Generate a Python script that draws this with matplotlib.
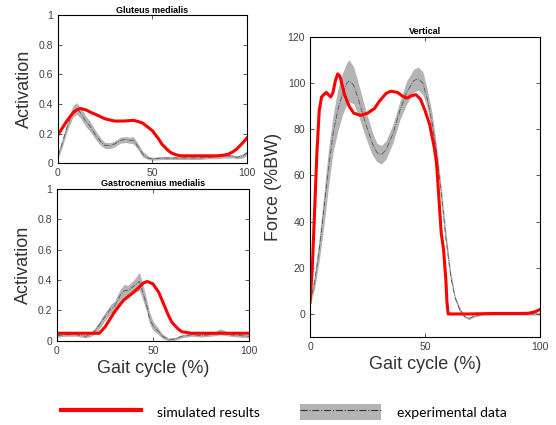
import numpy as np
import matplotlib
matplotlib.use('Agg')
import matplotlib.pyplot as plt
from matplotlib.lines import Line2D
from matplotlib.patches import Patch
from matplotlib.legend_handler import HandlerTuple

plt.rcParams['font.family'] = ['Liberation Sans', 'DejaVu Sans']

# Gluteus medialis
glut_x = [0, 2, 5, 8, 10, 12, 15, 17, 20, 23, 25, 28, 30, 33, 36, 38, 40, 42, 45, 48, 50,
          55, 60, 65, 70, 75, 80, 85, 88, 90, 93, 95, 98, 100]
glut_exp = [0.05, 0.12, 0.25, 0.35, 0.37, 0.34, 0.28, 0.25, 0.19, 0.14, 0.12, 0.12, 0.13, 0.155, 0.16,
            0.155, 0.155, 0.12, 0.06, 0.035, 0.03, 0.035, 0.035, 0.035, 0.035, 0.035, 0.04, 0.045,
            0.05, 0.05, 0.045, 0.04, 0.05, 0.07]
glut_sd = [0.02, 0.025, 0.03, 0.04, 0.04, 0.035, 0.035, 0.035, 0.03, 0.025, 0.02, 0.02, 0.02, 0.02, 0.02,
           0.02, 0.025, 0.02, 0.02, 0.01, 0.01, 0.01, 0.01, 0.01, 0.01, 0.01, 0.01, 0.015,
           0.015, 0.015, 0.01, 0.01, 0.015, 0.015]
glut_sim_x = [0, 3, 5, 8, 10, 12, 15, 18, 20, 25, 30, 35, 40, 43, 45, 48, 50, 53, 55, 58, 60, 63,
              65, 70, 75, 80, 85, 88, 90, 93, 95, 98, 100]
glut_sim = [0.19, 0.25, 0.29, 0.34, 0.36, 0.37, 0.36, 0.34, 0.33, 0.30, 0.285, 0.285, 0.29, 0.28,
            0.27, 0.24, 0.22, 0.17, 0.13, 0.09, 0.07, 0.055, 0.05, 0.05, 0.05, 0.05, 0.05, 0.055,
            0.06, 0.08, 0.10, 0.14, 0.17]

# Gastrocnemius medialis
gast_x = [0, 5, 10, 15, 18, 20, 23, 25, 28, 30, 33, 35, 37, 40, 43, 45, 47, 48, 50, 53, 55, 58,
          60, 62, 65, 70, 75, 80, 83, 85, 88, 90, 95, 100]
gast_exp = [0.035, 0.04, 0.04, 0.03, 0.045, 0.07, 0.12, 0.16, 0.21, 0.23, 0.30, 0.33, 0.33, 0.36,
            0.39, 0.31, 0.22, 0.16, 0.10, 0.06, 0.03, 0.01, 0.01, 0.015, 0.03, 0.04, 0.035, 0.04,
            0.05, 0.06, 0.05, 0.04, 0.035, 0.03]
gast_sd = [0.01, 0.01, 0.01, 0.01, 0.015, 0.02, 0.025, 0.025, 0.03, 0.03, 0.04, 0.04, 0.035, 0.04,
           0.06, 0.05, 0.04, 0.04, 0.03, 0.02, 0.015, 0.01, 0.01, 0.01, 0.01, 0.01, 0.01, 0.01,
           0.015, 0.02, 0.015, 0.01, 0.01, 0.01]
gast_sim_x = [0, 5, 10, 15, 20, 22, 25, 28, 30, 33, 35, 38, 40, 43, 45, 47, 50, 53, 55, 58, 60,
              63, 65, 70, 80, 90, 100]
gast_sim = [0.05, 0.05, 0.05, 0.05, 0.05, 0.05, 0.09, 0.15, 0.19, 0.24, 0.27, 0.30, 0.32, 0.355,
            0.38, 0.39, 0.375, 0.32, 0.26, 0.17, 0.12, 0.08, 0.06, 0.05, 0.05, 0.05, 0.05]

# Vertical ground reaction force
grf_x = [0, 2, 4, 6, 8, 10, 12, 14, 16, 17, 19, 21, 24, 27, 29, 31, 33, 36, 39, 42, 45, 47, 49,
         51, 53, 55, 57, 59, 61, 63, 65, 67, 69, 71, 75, 80, 90, 100]
grf_exp = [5, 14, 28, 45, 63, 78, 88, 95, 100, 101, 99, 93, 83, 74, 70, 69, 71, 78, 88, 96, 101,
           102, 100, 93, 83, 70, 52, 33, 17, 7, 2, -1, -2, -1, 0, 0, 0, 0]
grf_sd = [1, 3, 5, 7, 8, 8, 9, 9, 9, 9, 8, 7, 6, 5, 4, 4, 4, 4, 4, 5, 5, 5, 5, 4, 4, 3, 3, 3, 2,
          1, 1, 0.5, 0.5, 0.5, 0.5, 0.5, 0.5, 0.5]
grf_sim_x = [0, 1, 2, 3, 4, 5, 6, 7, 8, 9, 10, 11, 12, 13, 14, 15, 17, 19, 22, 25, 28, 30, 33, 35,
             38, 40, 42, 44, 46, 48, 50, 52, 54, 55, 56, 57, 58, 59, 59.5, 60, 61, 70, 80, 90, 95,
             98, 100]
grf_sim = [5, 20, 45, 70, 88, 94, 95, 96, 95, 94, 96, 101, 104, 103, 99, 95, 90, 87, 86, 87, 89, 92,
           95.5, 96.5, 96, 94.5, 93.5, 94.5, 95, 93, 88, 82, 72, 65, 50, 35, 28, 15, 5, 0, 0, 0,
           0.2, 0.2, 0.3, 1, 2]

red = '#ff0000'
band = '#b4b4b4'
tick_color = '#404040'


def style_axes(ax):
    ax.tick_params(direction='in', top=True, right=True, labelsize=7.5,
                   colors=tick_color, length=3, width=0.6)
    for s in ax.spines.values():
        s.set_linewidth(0.8)
        s.set_color('black')


def draw_exp(ax, x, m, sd):
    x = np.array(x)
    m = np.array(m)
    sd = np.array(sd)
    ax.fill_between(x, m - sd, m + sd, color=band, lw=0)
    ax.plot(x, m, color='#555555', lw=0.6, ls='-.')


fig = plt.figure(figsize=(5.56, 4.25), dpi=100)

ax1 = fig.add_axes([0.104, 0.616, 0.340, 0.348])
draw_exp(ax1, glut_x, glut_exp, glut_sd)
ax1.plot(glut_sim_x, glut_sim, color=red, lw=2.2)
ax1.set_xlim(0, 100)
ax1.set_ylim(0, 1)
ax1.set_xticks([0, 50, 100])
ax1.set_yticks([0, 0.2, 0.4, 0.6, 0.8, 1])
ax1.set_yticklabels(['0', '0.2', '0.4', '0.6', '0.8', '1'])
ax1.set_title('Gluteus medialis', fontsize=6.5, fontweight='bold', pad=2)
ax1.set_ylabel('Activation', fontsize=13, color='#333333', labelpad=4)
style_axes(ax1)

ax2 = fig.add_axes([0.1025, 0.198, 0.345, 0.358])
draw_exp(ax2, gast_x, gast_exp, gast_sd)
ax2.plot(gast_sim_x, gast_sim, color=red, lw=2.2)
ax2.set_xlim(0, 100)
ax2.set_ylim(0, 1)
ax2.set_xticks([0, 50, 100])
ax2.set_yticks([0, 0.2, 0.4, 0.6, 0.8, 1])
ax2.set_yticklabels(['0', '0.2', '0.4', '0.6', '0.8', '1'])
ax2.set_title('Gastrocnemius medialis', fontsize=6.5, fontweight='bold', pad=2)
ax2.set_ylabel('Activation', fontsize=13, color='#333333', labelpad=4)
ax2.set_xlabel('Gait cycle (%)', fontsize=13, color='#333333', labelpad=3)
style_axes(ax2)

ax3 = fig.add_axes([0.5576, 0.207, 0.414, 0.706])
draw_exp(ax3, grf_x, grf_exp, grf_sd)
ax3.plot(grf_sim_x, grf_sim, color=red, lw=2.2)
ax3.set_xlim(0, 100)
ax3.set_ylim(-10, 120)
ax3.set_xticks([0, 50, 100])
ax3.set_yticks([0, 20, 40, 60, 80, 100, 120])
ax3.set_title('Vertical', fontsize=6.5, fontweight='bold', pad=2)
ax3.set_ylabel('Force (%BW)', fontsize=13, color='#333333', labelpad=4)
ax3.set_xlabel('Gait cycle (%)', fontsize=13, color='#333333', labelpad=3)
style_axes(ax3)

# legend at the bottom: red line, and gray band with dash-dot line on top
h_sim = Line2D([], [], color=red, lw=3)
h_exp = (Patch(facecolor=band, edgecolor='none'),
         Line2D([], [], color='#333333', lw=0.8, ls='-.'))
fig.legend([h_sim, h_exp], ['simulated results', 'experimental data'],
           handler_map={tuple: HandlerTuple(ndivide=1, pad=0)},
           loc='center', bbox_to_anchor=(0.51, 0.03), ncol=2, frameon=False,
           handlelength=5.8, handleheight=1.45, handletextpad=1.15, columnspacing=2.9,
           borderpad=0, prop={'family': ['Lato', 'DejaVu Sans'], 'size': 10})

fig.savefig('out.png', dpi=100)
